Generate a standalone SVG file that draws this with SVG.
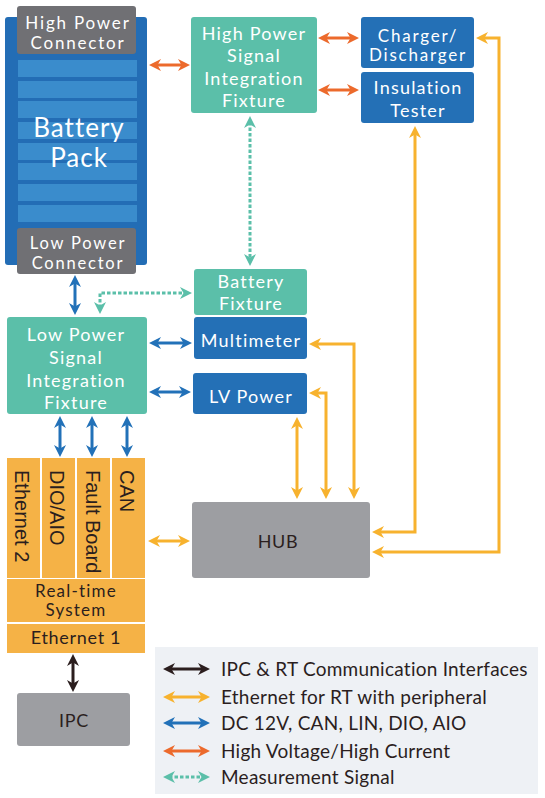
<svg xmlns="http://www.w3.org/2000/svg" width="545" height="798" viewBox="0 0 545 798">
<style>
text{font-family:Lato,"Open Sans","Noto Sans",sans-serif;text-anchor:middle}
.w{fill:#ffffff;font-size:18px;letter-spacing:1.2px}
.s{font-size:17px;letter-spacing:1.8px}
.d{fill:#2b1e1e;font-size:18px;letter-spacing:0.7px}
.v{font-family:"Liberation Sans",Arial,sans-serif;fill:#2b1e1e;font-size:20px;text-anchor:start}
.lg{fill:#2b1e1e;font-size:19px;letter-spacing:0.25px;text-anchor:start}
.teal{fill:#5bbfa9}
.blue{fill:#2470b6}
.gray{fill:#9d9ea2}
.rt{fill:#f5b246}
.c{fill:none;stroke-width:3}
.o{stroke:#ec6a2c;marker-start:url(#mo);marker-end:url(#mo)}
.b{stroke:#2271b8;marker-start:url(#mb);marker-end:url(#mb)}
.y{stroke:#f7b22e;marker-start:url(#my);marker-end:url(#my)}
.k{stroke:#2b1e1e;marker-start:url(#mk);marker-end:url(#mk)}
.t{stroke:#5bbfa9;stroke-dasharray:3.5 2;marker-start:url(#mt);marker-end:url(#mt)}
</style>
<defs>
<marker id="mo" viewBox="0 0 12 12" markerUnits="userSpaceOnUse" markerWidth="12" markerHeight="12" refX="6" refY="6" orient="auto-start-reverse"><path d="M0,0 L12,6 L0,12 L3.5,6 z" fill="#ec6a2c"/></marker>
<marker id="mb" viewBox="0 0 12 12" markerUnits="userSpaceOnUse" markerWidth="12" markerHeight="12" refX="6" refY="6" orient="auto-start-reverse"><path d="M0,0 L12,6 L0,12 L3.5,6 z" fill="#2271b8"/></marker>
<marker id="my" viewBox="0 0 12 12" markerUnits="userSpaceOnUse" markerWidth="12" markerHeight="12" refX="6" refY="6" orient="auto-start-reverse"><path d="M0,0 L12,6 L0,12 L3.5,6 z" fill="#f7b22e"/></marker>
<marker id="mk" viewBox="0 0 12 12" markerUnits="userSpaceOnUse" markerWidth="12" markerHeight="12" refX="6" refY="6" orient="auto-start-reverse"><path d="M0,0 L12,6 L0,12 L3.5,6 z" fill="#2b1e1e"/></marker>
<marker id="mt" viewBox="0 0 12 12" markerUnits="userSpaceOnUse" markerWidth="12" markerHeight="12" refX="6" refY="6" orient="auto-start-reverse"><path d="M0,0 L12,6 L0,12 L3.5,6 z" fill="#5bbfa9"/></marker>
</defs>
<rect width="545" height="798" fill="#ffffff"/>

<g id="battery-pack">
<rect x="5" y="17" width="142" height="248" rx="3" fill="#236db5"/>
<g fill="#3a8ccc">
<rect x="18" y="60" width="119" height="17"/>
<rect x="18" y="81" width="119" height="17"/>
<rect x="18" y="101" width="119" height="17"/>
<rect x="18" y="122" width="119" height="17"/>
<rect x="18" y="143" width="119" height="17"/>
<rect x="18" y="163" width="119" height="17"/>
<rect x="18" y="184" width="119" height="17"/>
<rect x="18" y="205" width="119" height="17"/>
</g>
<text x="79" y="137" class="w" style="font-size:26px;letter-spacing:1px">Battery</text>
<text x="79" y="167" class="w" style="font-size:26px;letter-spacing:1px">Pack</text>
</g>
<g id="high-power-connector">
<rect x="17" y="6" width="119" height="48" rx="3" fill="#707074"/>
<text x="78" y="29" class="w s">High Power</text>
<text x="78" y="49" class="w s">Connector</text>
</g>
<g id="low-power-connector">
<rect x="17" y="228" width="119" height="46" rx="3" fill="#707074"/>
<text x="78" y="249" class="w s" style="font-size:16.5px">Low Power</text>
<text x="78" y="268.5" class="w s" style="font-size:16.5px">Connector</text>
</g>

<g id="hp-fixture">
<rect x="191" y="17" width="126" height="96" rx="3" class="teal"/>
<text x="254" y="40" class="w">High Power</text>
<text x="254" y="62" class="w">Signal</text>
<text x="254" y="85" class="w">Integration</text>
<text x="254" y="107" class="w">Fixture</text>
</g>
<g id="charger">
<rect x="361" y="17" width="113" height="51" rx="3" class="blue"/>
<text x="418" y="42" class="w s">Charger/</text>
<text x="418" y="61" class="w s">Discharger</text>
</g>
<g id="insulation-tester">
<rect x="361" y="72" width="113" height="51" rx="3" class="blue"/>
<text x="418" y="94" class="w">Insulation</text>
<text x="418" y="117" class="w">Tester</text>
</g>
<g id="battery-fixture">
<rect x="194" y="269" width="113" height="46" rx="3" class="teal"/>
<text x="251" y="288" class="w">Battery</text>
<text x="251" y="310" class="w">Fixture</text>
</g>
<g id="multimeter">
<rect x="194" y="317" width="113" height="42" rx="3" class="blue"/>
<text x="251" y="347" class="w">Multimeter</text>
</g>
<g id="lv-power">
<rect x="193" y="373" width="114" height="41" rx="3" class="blue"/>
<text x="251" y="403" class="w">LV Power</text>
</g>
<g id="lp-fixture">
<rect x="7" y="317" width="140" height="97" rx="3" class="teal"/>
<text x="76" y="341" class="w">Low Power</text>
<text x="76" y="364" class="w">Signal</text>
<text x="76" y="387" class="w">Integration</text>
<text x="76" y="409" class="w">Fixture</text>
</g>
<g id="rt-system">
<rect x="7" y="458" width="33" height="120" class="rt"/>
<rect x="42" y="458" width="33" height="120" class="rt"/>
<rect x="77" y="458" width="33" height="120" class="rt"/>
<rect x="112" y="458" width="33" height="120" class="rt"/>
<text class="v" transform="translate(15,470) rotate(90)">Ethernet 2</text>
<text class="v" transform="translate(50,470) rotate(90)">DIO/AIO</text>
<text class="v" transform="translate(86,470) rotate(90)">Fault Board</text>
<text class="v" transform="translate(120,470) rotate(90)">CAN</text>
<rect x="7" y="579" width="138" height="43" class="rt"/>
<text x="76" y="597" class="d" style="font-size:17px;letter-spacing:1.2px">Real-time</text>
<text x="76" y="616" class="d" style="font-size:17px;letter-spacing:1.2px">System</text>
<rect x="7" y="624" width="138" height="29" class="rt"/>
<text x="76" y="644" class="d">Ethernet 1</text>
</g>
<g id="hub">
<rect x="192" y="502" width="178" height="76" rx="3" class="gray"/>
<text x="278" y="548" class="d">HUB</text>
</g>
<g id="ipc">
<rect x="17" y="693" width="113" height="53" rx="3" class="gray"/>
<text x="74" y="727" class="d">IPC</text>
</g>

<g id="connectors">
<path class="c o" d="M155,65 L184,65"/>
<path class="c o" d="M324,38 L353,38"/>
<path class="c o" d="M324,90 L353,90"/>
<path class="c t" d="M250,122 L250,260"/>
<path class="c t" d="M100,308 L100,293 L186,293"/>
<path class="c b" d="M75,281 L75,309"/>
<path class="c b" d="M155,343 L186,343"/>
<path class="c b" d="M155,392 L185,392"/>
<path class="c b" d="M60,422 L60,451"/>
<path class="c b" d="M92,422 L92,451"/>
<path class="c b" d="M127,422 L127,451"/>
<path class="c k" d="M73,660 L73,686"/>
<path class="c y" d="M154,541 L184,541"/>
<path class="c y" d="M315,344 L354,344 L354,493"/>
<path class="c y" d="M315,393 L326,393 L326,493"/>
<path class="c y" d="M297,423 L297,493"/>
<path class="c y" d="M415,132 L415,532 L378,532"/>
<path class="c y" d="M482,38 L499,38 L499,552 L378,552"/>
</g>

<g id="legend">
<rect x="155" y="647" width="383" height="147" fill="#eef1f5"/>
<path class="c k" d="M169,669 L204,669"/>
<path class="c y" d="M169,697 L204,697"/>
<path class="c b" d="M169,723 L204,723"/>
<path class="c o" d="M169,751 L204,751"/>
<path class="c t" d="M169,777 L204,777"/>
<text x="221" y="676" class="lg">IPC &amp; RT Communication Interfaces</text>
<text x="221" y="704" class="lg">Ethernet for RT with peripheral</text>
<text x="221" y="730" class="lg">DC 12V, CAN, LIN, DIO, AIO</text>
<text x="221" y="758" class="lg">High Voltage/High Current</text>
<text x="221" y="784" class="lg">Measurement Signal</text>
</g>
</svg>
